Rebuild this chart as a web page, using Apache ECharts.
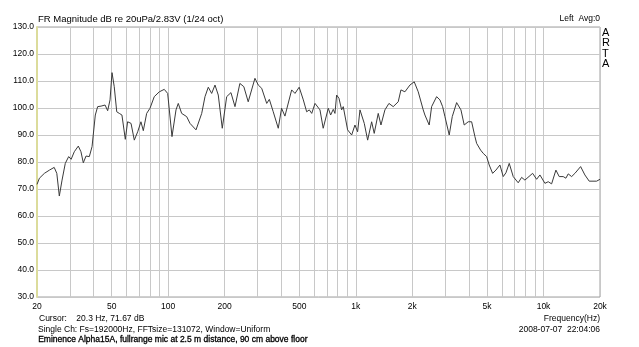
<!DOCTYPE html>
<html>
<head>
<meta charset="utf-8">
<script src="https://cdn.jsdelivr.net/npm/echarts@6/dist/echarts.min.js"></script>
<style>
  html, body { margin: 0; padding: 0; background: #fff; }
  #chart { width: 639px; height: 347px; }
</style>
</head>
<body>
<div id="chart"></div>
<script>
// frequency (Hz) and level (dB)
const freqs = [
    20, 20.6, 21.9, 23.3, 24.7, 25.5, 26.3, 27.2, 28.3, 29.5, 30.4, 31.6, 33.2, 34.3, 35.3, 36.5, 38.0, 39.3,
    40.9, 42.1, 43.9, 44.8, 46.1, 47.6, 49.0, 50.2, 51.6, 53.2, 54.9, 56.7, 59.1, 60.8, 63.4, 66.0, 68.8,
    71.6, 73.7, 76.8, 80.0, 84.3, 89.7, 95.3, 99.4, 104.8, 110.1, 113.2, 118.0, 125.5, 130.7, 140.7,
    150.9, 157.1, 163.6, 170.5, 177.6, 184.9, 194.2, 205, 216, 227, 241, 253, 267, 290, 302, 315, 335,
    346, 363, 386, 402, 419, 455, 474, 499, 525, 547, 565, 582, 606, 644, 670, 713, 734, 758, 774, 790,
    813, 840, 857, 904, 950, 989, 1022, 1052, 1109, 1156, 1214, 1253, 1316, 1361, 1429, 1501, 1582,
    1682, 1739, 1826, 1942, 2047, 2150, 2286, 2334, 2460, 2534, 2694, 2806, 2900, 2984, 3145, 3264,
    3444, 3631, 3780, 3970, 4140, 4311, 4402, 4623, 4773, 4874, 4977, 5137, 5356, 5578, 5858, 6100,
    6306, 6566, 6897, 7332, 7644, 7960, 8750, 9190, 9570, 10176, 10594, 11046, 11642, 12124, 12734,
    13160, 13540, 14120, 14704, 15766, 16618, 17520, 19182, 20000
];
const levels = [
    71.7, 74.0, 75.8, 77.0, 78.0, 75.8, 67.4, 73.3, 79.5, 82.0, 81.0, 83.8, 85.9, 83.8, 79.7, 82.2, 82.0, 85.7,
    97.4, 100.5, 100.7, 100.3, 101.1, 99.0, 103.0, 113.1, 107.9, 98.6, 98.0, 97.4, 88.4, 94.9, 94.3, 88.1, 91.2,
    94.9, 91.6, 98.0, 99.9, 104.2, 106.0, 106.9, 105.4, 89.4, 99.3, 101.7, 98.0, 96.8, 94.3, 91.9,
    98.0, 104.2, 107.7, 105.4, 108.5, 104.8, 92.5, 104.2, 105.7, 100.5, 109.1, 107.9, 102.3, 111.0, 108.5, 107.3, 101.7,
    103.2, 98.6, 92.5, 99.9, 97.0, 106.7, 105.4, 107.7, 103.0, 98.6, 99.3, 98.0, 101.7, 99.3, 92.5, 99.9, 97.4, 99.5, 98.0, 104.8,
    103.6, 99.3, 100.5, 91.9, 90.0, 93.7, 91.2, 99.3, 94.3, 88.1, 94.9, 90.6, 98.0, 93.7, 99.3, 101.7, 100.5,
    102.3, 106.7, 106.0, 108.5, 109.7, 106.0, 99.3, 97.4, 93.7, 100.5, 104.2, 103.0, 100.5, 96.8, 90.0, 96.8,
    102.0, 99.3, 93.7, 94.9, 94.9, 89.4, 86.9, 84.4, 83.2, 83.8, 82.0, 78.9, 75.8, 77.0, 78.9, 74.6,
    76.0, 79.5, 74.6, 72.3, 74.3, 73.3, 75.8, 73.6, 75.2, 72.1, 72.7, 71.9, 77.0, 74.6, 74.6,
    74.0, 75.6, 74.6, 75.8, 78.3, 75.2, 72.9, 72.9, 73.6
];

// log grid: 20..100 by 10, 100..1k by 100, 1k..10k by 1k, 20k
const gridFreqs = [
    20, 30, 40, 50, 60, 70, 80, 90, 100, 200, 300, 400, 500, 600, 700, 800, 900,
    1000, 2000, 3000, 4000, 5000, 6000, 7000, 8000, 9000, 10000, 20000
];
const labelFreqs = [20, 50, 100, 200, 500, 1000, 2000, 5000, 10000, 20000];

const FONT = '"Liberation Sans", Arial, sans-serif';

const chart = echarts.init(document.getElementById('chart'), null, {renderer: 'canvas'});

const option = {
    backgroundColor: '#ffffff',
    animation: false,
    textStyle: {fontFamily: FONT},
    grid: {left: 37, right: 39, top: 27, bottom: 50, show: true, borderColor: '#a0a0a0', borderWidth: 1},
    xAxis: {
        type: 'log',
        logBase: 10,
        min: 20,
        max: 20000,
        axisLine: {show: false},
        axisTick: {show: false, customValues: gridFreqs},
        splitLine: {show: true, lineStyle: {color: '#c8c8c8', width: 1}},
        axisLabel: {
            customValues: labelFreqs,
            color: '#000',
            fontSize: 8.5,
            fontFamily: FONT,
            margin: 5,
            formatter: v => (v >= 1000 ? (v / 1000) + 'k' : String(v)),
        },
    },
    yAxis: {
        type: 'value',
        min: 30,
        max: 130,
        interval: 10,
        axisLine: {show: true, lineStyle: {color: '#dcdc9c', width: 2}},
        axisTick: {show: false},
        splitLine: {show: true, lineStyle: {color: '#c8c8c8', width: 1}},
        axisLabel: {
            color: '#000',
            fontSize: 8.5,
            fontFamily: FONT,
            margin: 3,
            formatter: v => v.toFixed(1),
        },
    },
    series: [
        {
            type: 'line',
            data: freqs.map((f, i) => [f, levels[i]]),
            showSymbol: false,
            symbol: 'none',
            lineStyle: {color: '#3a3a3a', width: 1},
            silent: true,
        },
    ],
    graphic: [
        {type: 'text', left: 38, top: 14, style: {text: 'FR Magnitude dB re 20uPa/2.83V (1/24 oct)', font: '9.5px ' + FONT, fill: '#000'}},
        {type: 'text', right: 39, top: 14, style: {text: 'Left  Avg:0', font: '8.5px ' + FONT, fill: '#000'}},
        {type: 'text', left: 602, top: 27, style: {text: 'A\nR\nT\nA', font: '11px ' + FONT, lineHeight: 10.5, fill: '#000'}},
        {type: 'text', left: 39, top: 314, style: {text: 'Cursor:    20.3 Hz, 71.67 dB', font: '8.5px ' + FONT, fill: '#000'}},
        {type: 'text', right: 39, top: 314, style: {text: 'Frequency(Hz)', font: '8.5px ' + FONT, fill: '#000'}},
        {type: 'text', left: 38, top: 325, style: {text: 'Single Ch: Fs=192000Hz, FFTsize=131072, Window=Uniform', font: '8.5px ' + FONT, fill: '#000'}},
        {type: 'text', right: 39, top: 325, style: {text: '2008-07-07  22:04:06', font: '8.5px ' + FONT, fill: '#000'}},
        {type: 'text', left: 38, top: 335, style: {text: 'Eminence Alpha15A, fullrange mic at 2.5 m distance, 90 cm above floor', font: '8.5px ' + FONT, fill: '#000', stroke: '#000', lineWidth: 0.3}},
    ],
};

chart.setOption(option);

window.addEventListener('resize', () => {
    chart.resize();
});
</script>
</body>
</html>
